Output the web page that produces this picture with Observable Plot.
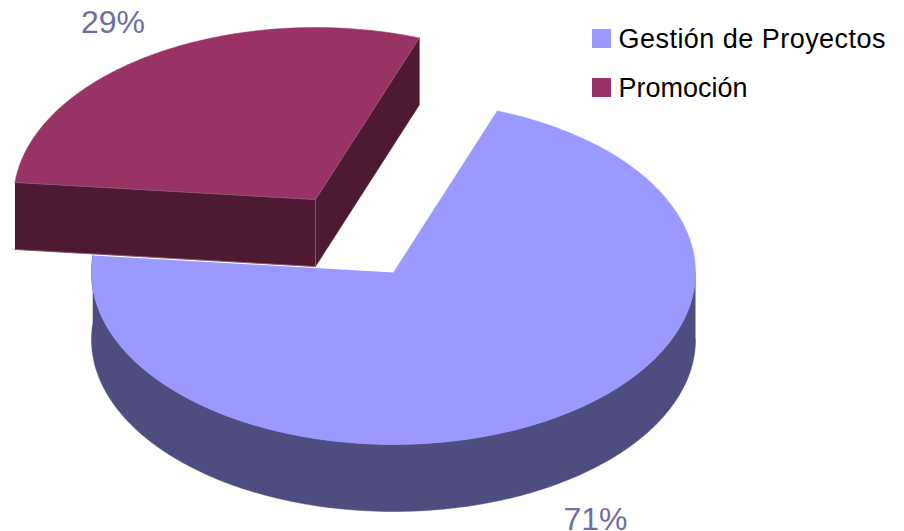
<!DOCTYPE html>
<html lang="es">
<head>
<meta charset="utf-8">
<title>Gestión de Proyectos y Promoción</title>
<script src="https://cdn.jsdelivr.net/npm/d3@7"></script>
<script src="https://cdn.jsdelivr.net/npm/@observablehq/plot@0.6"></script>
<style>
  html, body { margin: 0; padding: 0; background: #fff; }
  svg { display: block; }
</style>
</head>
<body>
<div id="chart"></div>
<script>
// Data
const categories = ["Gestión de Proyectos", "Promoción"];
const shares = [71, 29];
const shareLabels = ["71%", "29%"];

// Colours
const topColors = ["#9999FF", "#993366"];
const sideColors = ["#4D4D7F", "#4D1933"];
const edgeColor = "#8F5C78";
const labelColor = "#6E6EA3";

// Pie geometry, in chart units
const W = 904, H = 531;
const center = {x: 393, y: 272};
const rx = 302, ry = 172, depth = 67;
const explode = {x: -78, y: -73};
const startDeg = 20.1;

const sweep0 = shares[0] / d3.sum(shares) * 360;
const endDeg0 = startDeg + sweep0;
const endDeg1 = startDeg + 360;

const rim = (deg, off = {x: 0, y: 0}, drop = 0) => {
  const t = deg * Math.PI / 180;
  return {x: center.x + off.x + rx * Math.sin(t),
          y: center.y + off.y + drop - ry * Math.cos(t)};
};
const arc = (a, b, off, drop) =>
  d3.range(0, 181).map(i => rim(a + (b - a) * i / 180, off, drop));

// Big slice
const bigWall = [...arc(90, endDeg0, undefined, 0), ...arc(endDeg0, 90, undefined, depth)];
const bigTop = [center, ...arc(startDeg, endDeg0)];

// Exploded slice
const c1 = {x: center.x + explode.x, y: center.y + explode.y};
const a = rim(endDeg0, explode), b = rim(endDeg1, explode);
const down = p => ({x: p.x, y: p.y + depth});
const smallTop = [c1, ...arc(endDeg0, endDeg1, explode)];
const smallLeft = [a, c1, down(c1), down(a)];
const smallRight = [c1, b, down(b), down(c1)];

const face = (pts, fill) =>
  Plot.line(pts, {x: "x", y: "y", fill, stroke: fill, strokeWidth: 0.5, curve: "linear"});
const edge = pts =>
  Plot.line(pts, {x: "x", y: "y", stroke: edgeColor, strokeWidth: 0.8, curve: "linear"});

// Legend rows
const legendX = 592, legendTextX = 618, legendSize = 19, legendTextWidth = 267;
const legendRows = categories.map((name, i) => ({
  name, color: topColors[i], y: 38.5 + i * 49
}));

// Value labels
const labels = [
  {text: shareLabels[0], x: 595, y: 519},
  {text: shareLabels[1], x: 112.5, y: 22}
];

const chart = Plot.plot({
  width: W, height: H,
  margin: 0,
  style: {background: "#fff", fontFamily: "'Liberation Sans', Arial, sans-serif"},
  x: {domain: [0, W], range: [0, W], axis: null},
  y: {domain: [0, H], range: [0, H], axis: null},
  marks: [
    face(bigWall, sideColors[0]),
    face(bigTop, topColors[0]),
    face(smallLeft, sideColors[1]),
    face(smallRight, sideColors[1]),
    face(smallTop, topColors[1]),
    edge([a, c1, b]),
    edge([c1, down(c1)]),
    edge([down(a), down(c1)]),
    Plot.text(labels, {
      x: "x", y: "y", text: "text",
      fontSize: 32, fill: labelColor, textAnchor: "middle"
    }),
    Plot.rect(legendRows, {
      x1: () => legendX, x2: () => legendX + legendSize,
      y1: d => d.y - legendSize / 2, y2: d => d.y + legendSize / 2,
      fill: "color"
    }),
    Plot.text(legendRows, {
      x: () => legendTextX, y: "y", text: "name",
      textAnchor: "start", fontSize: 27, fill: "#000"
    })
  ]
});
// The first legend entry is set a little wider in the reference
d3.select(chart).selectAll("text")
  .filter(function () { return this.textContent === categories[0]; })
  .attr("textLength", legendTextWidth)
  .attr("lengthAdjust", "spacing");
document.getElementById("chart").append(chart);
</script>
</body>
</html>
